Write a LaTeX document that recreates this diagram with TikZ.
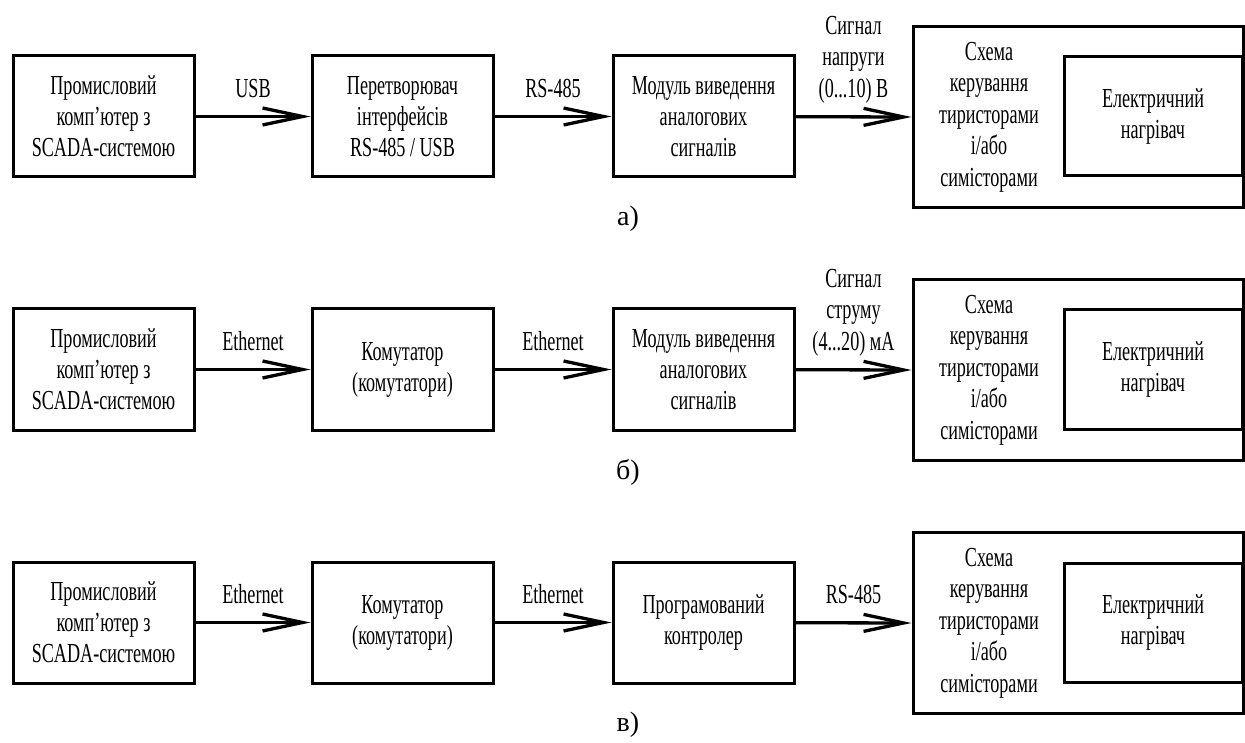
\documentclass[tikz,border=0pt]{standalone}
\usepackage{fontspec}
\setmainfont{Liberation Serif}
\newfontfamily\cond{Liberation Serif}[FakeStretch=0.66]
\usetikzlibrary{arrows.meta}
\tikzset{
  box/.style={draw, line width=3pt, minimum width=181pt, minimum height=121pt, inner sep=0pt, align=center, font=\cond\fontsize{27.5}{31}\selectfont},
  txt/.style={inner sep=0pt, align=center, font=\cond\fontsize{27.5}{31.5}\selectfont},
  lblbase/.style={inner sep=0pt, align=center, font=\cond\fontsize{27.5}{31.5}\selectfont},
  lbl/.style={lblbase, above=17pt},
  lblm/.style={lblbase, above=12pt},
  captxt/.style={inner sep=0pt, font=\fontsize{28}{32}\selectfont},
  arr/.style={line width=3.3pt, -{Straight Barb[length=40pt,width=17pt,line width=3.3pt]}}
}
\begin{document}
\begin{tikzpicture}[x=1pt,y=-1pt]
\useasboundingbox (0,0) rectangle (1245,743);
\foreach \r/\dy in {a/0,b/253,c/506}{
  \begin{scope}[shift={(0,\dy)}]
  \node[box] (\r1) at (103.5,116.5) {Промисловий\\комп’ютер з\\SCADA-системою};
  \node[box, minimum width=330pt, minimum height=181pt] (\r4) at (1078,117) {};
  \node[box, minimum width=178pt, minimum height=119pt] (\r5) at (1153,116.5) {Електричний\\нагрівач};
  \node[txt] (\r6) at (989,117) {Схема\\керування\\тиристорами\\і/або\\симісторами};
  \end{scope}
}
\node[box] (a2) at (402.5,116.5) {Перетворювач\\інтерфейсів\\RS-485 / USB};
\node[box] (a3) at (703.5,116.5) {Модуль виведення\\аналогових\\сигналів};
\node[box] (b2) at (402.5,369.5) {Комутатор\\(комутатори)};
\node[box] (b3) at (703.5,369.5) {Модуль виведення\\аналогових\\сигналів};
\node[box] (c2) at (402.5,622.5) {Комутатор\\(комутатори)};
\node[box] (c3) at (703.5,622.5) {Програмований\\контролер};

\draw[arr] (a1) -- (a2) node[lbl, midway] {USB};
\draw[arr] (a2) -- (a3) node[lbl, midway] {RS-485};
\draw[arr] (a3) -- (a4.west) node[lblm, midway] {Сигнал\\напруги\\(0...10) В};
\draw[arr] (b1) -- (b2) node[lbl, midway] {Ethernet};
\draw[arr] (b2) -- (b3) node[lbl, midway] {Ethernet};
\draw[arr] (b3) -- (b4.west) node[lblm, midway] {Сигнал\\струму\\(4...20) мА};
\draw[arr] (c1) -- (c2) node[lbl, midway] {Ethernet};
\draw[arr] (c2) -- (c3) node[lbl, midway] {Ethernet};
\draw[arr] (c3) -- (c4.west) node[lbl, midway] {RS-485};

\node[captxt] (ca) at (628,219) {а)};
\node[captxt] (cb) at (628,472) {б)};
\node[captxt] (cc) at (628,725) {в)};
\end{tikzpicture}
\end{document}
